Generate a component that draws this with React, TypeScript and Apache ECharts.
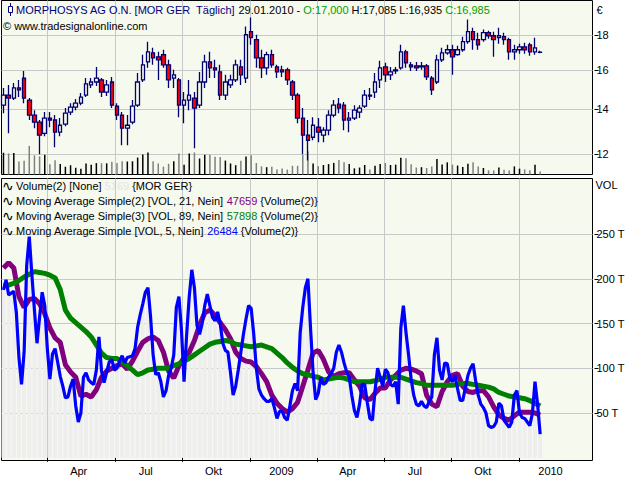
import React, { useEffect, useRef } from 'react';
import * as echarts from 'echarts';

// ---------- data ----------
const DAY = 86400000;
const firstWeek = Date.UTC(2008, 1, 1); // weekly candles, Fridays, 01.02.2008 .. 29.01.2010
const axisStart = Date.UTC(2008, 0, 29, 8);
const axisEnd = Date.UTC(2010, 3, 10);

const priceOpen = [
  14.18, 14.68, 14.53, 15.04, 15.56, 14.43, 13.71, 13.38, 12.88, 13.57,
  13.48, 12.93, 13.29, 13.85, 14.09, 14.28, 14.68, 15.2, 15.35, 15.46,
  14.83, 15.35, 14.14, 13.71, 13.11, 13.38, 14.18, 15.46, 16.44, 16.96,
  16.73, 16.85, 16.28, 15.56, 15.46, 14.18, 14.43, 14.53, 14.18, 15.35,
  16.44, 16.11, 15.89, 14.68, 15.2, 15.46, 16.16, 15.56, 18.23, 17.74,
  16.67, 16.11, 16.85, 16.16, 16.0, 16.0, 15.35, 14.68, 13.57, 12.8,
  12.71, 13.15, 12.8, 13.02, 13.71, 14.23, 14.18, 13.48, 13.57, 13.85,
  14.14, 14.68, 14.83, 15.46, 16.16, 15.73, 15.94, 16.11, 17.02, 16.28,
  16.22, 16.16, 16.22, 15.56, 15.35, 16.56, 16.96, 17.14, 16.85, 17.14,
  17.62, 18.23, 17.74, 17.74, 18.17, 17.98, 17.86, 17.92, 17.74, 17.02,
  17.14, 17.31, 17.43, 17.02, 17.0,
];
const priceHigh = [
  15.04, 15.2, 15.3, 15.46, 15.94, 14.53, 13.94, 13.48, 13.85, 13.85,
  13.71, 13.57, 14.04, 14.28, 14.48, 14.78, 15.56, 15.56, 16.16, 15.56,
  15.46, 15.62, 14.28, 13.85, 13.71, 14.43, 15.83, 16.85, 17.62, 17.25,
  17.02, 17.14, 16.56, 16.0, 15.56, 14.83, 15.46, 14.83, 15.89, 16.85,
  17.02, 16.56, 16.28, 15.73, 15.73, 16.56, 16.56, 18.55, 19.13, 18.04,
  17.14, 17.02, 17.14, 16.28, 16.22, 16.11, 15.46, 14.78, 14.04, 13.48,
  13.61, 13.57, 13.15, 13.94, 14.43, 14.53, 14.33, 13.85, 14.18, 14.18,
  14.94, 15.04, 15.83, 16.5, 16.39, 16.16, 16.16, 17.43, 17.14, 16.44,
  16.44, 16.44, 16.33, 15.67, 16.85, 17.25, 17.43, 17.43, 17.37, 17.92,
  19.0, 18.48, 18.17, 18.36, 18.29, 18.23, 18.48, 18.17, 17.86, 17.43,
  17.49, 17.55, 17.55, 17.86, 17.085,
];
const priceLow = [
  13.8, 12.88, 14.43, 14.58, 14.28, 13.48, 13.11, 11.99, 12.75, 13.15,
  12.28, 12.75, 13.2, 13.71, 13.94, 14.18, 14.58, 15.04, 15.14, 14.58,
  14.63, 14.04, 13.48, 12.37, 12.37, 13.29, 14.09, 15.35, 16.11, 16.28,
  15.46, 16.11, 15.04, 15.04, 13.61, 13.33, 13.94, 12.24, 14.04, 15.04,
  15.56, 15.56, 14.43, 14.43, 15.04, 15.35, 15.2, 15.3, 17.43, 16.11,
  15.56, 15.73, 16.11, 15.56, 15.62, 15.2, 14.43, 13.33, 11.99, 11.74,
  12.58, 12.49, 12.49, 12.8, 13.61, 13.8, 13.02, 12.93, 13.48, 13.57,
  14.04, 14.43, 14.53, 15.04, 15.35, 15.46, 15.78, 16.0, 16.11, 15.94,
  15.94, 16.0, 15.46, 14.68, 15.25, 16.44, 16.85, 15.73, 16.79, 17.02,
  17.49, 17.14, 17.14, 17.62, 17.8, 16.73, 17.49, 17.43, 16.56, 16.56,
  16.9, 16.9, 16.79, 16.85, 16.935,
];
const priceClose = [
  14.68, 14.53, 15.04, 14.94, 14.53, 13.71, 13.38, 12.8, 13.57, 13.48,
  12.93, 13.24, 13.8, 14.09, 14.28, 14.58, 15.25, 15.35, 15.56, 14.83,
  15.2, 14.18, 13.71, 13.11, 13.24, 14.14, 15.35, 16.28, 17.02, 16.67,
  16.56, 16.28, 15.46, 15.73, 14.18, 14.43, 14.68, 14.04, 15.35, 16.44,
  16.11, 16.0, 14.68, 15.35, 15.46, 16.28, 15.73, 18.04, 17.86, 16.67,
  16.11, 16.85, 16.28, 15.89, 15.89, 15.46, 14.68, 13.57, 12.8, 12.58,
  13.24, 12.93, 13.02, 13.71, 14.18, 14.04, 13.48, 13.57, 13.94, 14.04,
  14.68, 14.63, 15.35, 16.11, 15.73, 15.89, 16.0, 17.02, 16.39, 16.16,
  16.11, 16.22, 15.62, 14.94, 16.56, 16.96, 17.14, 16.73, 17.14, 17.62,
  18.23, 17.74, 17.43, 18.17, 17.98, 17.74, 17.98, 17.74, 17.02, 17.14,
  17.31, 17.14, 17.02, 17.25, 16.985,
];
// average daily volume per week, thousands
const volumeK = [
  187.6, 182, 186, 112, 118, 247, 165, 157, 170, 88,
  122, 91, 67, 80, 58, 50, 95, 84, 98, 97,
  96, 110, 100, 114, 112, 114, 146, 172, 190, 115,
  95, 68, 92, 115, 180, 85, 180, 190, 138, 170,
  170, 153, 150, 120, 95, 80, 118, 155, 167, 100,
  70, 63, 66, 44, 52, 42, 75, 75, 168, 200,
  95, 72, 82, 90, 100, 126, 106, 90, 53, 60,
  82, 44, 75, 90, 99, 82, 85, 145, 140, 88,
  60, 63, 56, 68, 134, 87, 105, 85, 77, 64,
  92, 105, 70, 56, 36, 35, 61, 42, 34, 70,
  50, 44, 36, 85, 26.5,
];
const lastDayVolume = 5169;
// MA 21 (purple) weekly, thousands
const ma21K = [
  212, 218, 212, 180, 168, 177, 178, 172, 161, 145,
  134, 129, 104, 96, 90, 69, 71, 68, 76, 90,
  97, 100, 103, 105, 99, 108, 119, 129, 133, 135,
  131, 118, 97, 89, 103, 112, 118, 131, 148, 162,
  165, 159, 151, 143, 133, 118, 111, 108, 107, 102,
  94, 85, 70, 61, 55, 51, 55, 62, 80, 98,
  117, 120, 110, 96, 91, 94, 95, 95, 87, 80,
  67, 65, 72, 78, 78, 87, 92, 98, 100, 99,
  97, 94, 70, 60, 57, 74, 85, 92, 94, 80,
  74, 73, 75, 75, 68, 57, 48, 44, 42, 47,
  51, 51, 51, 50, 47.659,
];
// MA 89 (green) weekly, thousands
const ma89K = [
  192, 193, 195, 198, 202, 205, 208, 207, 206, 204,
  201, 188, 165, 156, 151, 146, 141, 135, 126, 117,
  112, 111, 111, 107, 103, 98, 93, 95, 98, 99,
  100, 100, 100, 103, 105, 108, 111, 115, 119, 123,
  127, 129, 130, 131, 130, 127, 126, 125, 124, 125,
  126, 124, 122, 117, 112, 106, 101, 97, 94, 93,
  91, 90, 87, 88, 89, 90, 89, 87, 85, 85,
  85, 85, 86, 88, 90, 90, 90, 90, 88, 86,
  84, 83, 81, 81, 81, 81, 81, 81, 82, 83,
  83, 82, 81, 80, 79, 77, 73, 71, 69, 68,
  67, 66, 64, 61, 57.898,
];
// MA 5 (blue) twice a week, thousands
const ma5K = [
  187.6, 198.8, 182, 184, 186, 162, 112, 82, 118, 215,
  247, 205, 165, 128, 157, 185, 170, 122, 88, 116,
  122, 107, 91, 80, 67, 68, 80, 88, 58, 40,
  50, 90, 95, 87, 84, 82, 98, 135, 97, 84,
  96, 107, 110, 98, 100, 108, 114, 106, 112, 113,
  114, 122, 146, 160, 172, 185, 190, 158, 115, 93,
  95, 85, 68, 75, 92, 100, 115, 168, 180, 142,
  85, 138, 180, 210, 190, 148, 138, 150, 170, 183,
  170, 157, 153, 163, 150, 128, 120, 118, 95, 70,
  80, 98, 118, 138, 155, 170, 167, 138, 100, 77,
  70, 66, 63, 63, 66, 56, 44, 52, 52, 45,
  42, 58, 75, 83, 75, 140, 168, 190, 200, 145,
  95, 65, 72, 90, 82, 84, 90, 94, 100, 118,
  126, 118, 106, 96, 90, 70, 53, 45, 60, 82,
  82, 62, 44, 42, 75, 100, 90, 80, 99, 95,
  82, 80, 85, 60, 145, 170, 140, 115, 88, 70,
  60, 58, 63, 58, 56, 63, 68, 115, 134, 98,
  87, 106, 105, 89, 85, 92, 77, 64, 64, 78,
  92, 100, 105, 86, 70, 60, 56, 50, 36, 34,
  35, 40, 61, 58, 42, 38, 34, 40, 70, 75,
  50, 45, 44, 40, 36, 50, 85, 60, 26.484,
];

const quarterDates = ['2008-04-01', '2008-07-01', '2008-10-01', '2009-01-01', '2009-04-01', '2009-07-01', '2009-10-01', '2010-01-01'];
const quarterLabels = ['Apr', 'Jul', 'Okt', '2009', 'Apr', 'Jul', 'Okt', '2010'];
const priceTicks = [12, 14, 16, 18];
const volumeTicksK = [50, 100, 150, 200, 250];
const priceRange = [11.19, 20.28];
const volumeRangeK = [-3, 312];
const topVolumeMax = 1500;

// ---------- styles ----------
const BG = '#f6f9ee';
const GRIDC = '#c8c8c8';
const NAVY = '#000070';
const FONT = '"Liberation Sans", Arial, sans-serif';

export default function App() {
  const ref = useRef<HTMLDivElement>(null);
  useEffect(() => {
    const chart = echarts.init(ref.current as HTMLDivElement, null, { renderer: 'svg' });
    const weekDates = priceOpen.map((_, i) => firstWeek + i * 7 * DAY);
    const halfWeekDates = ma5K.map((_, i) => firstWeek + i * 3.5 * DAY);
    const qt = quarterDates.map((d) => Date.parse(d + 'T00:00:00Z'));
    const ln = Math.log;
    const last = priceOpen.length - 1;
    const f3 = (v: number) => v.toFixed(3).replace('.', ',');
    const ld = new Date(weekDates[last]);
    const p2 = (n: number) => String(n).padStart(2, '0');
    const dateStr = `${p2(ld.getUTCDate())}.${p2(ld.getUTCMonth() + 1)}.${ld.getUTCFullYear()}`;
    const k = (v: number) => String(Math.round(v * 1000));

    const txt = { fontFamily: FONT, fontSize: 11, color: '#000', lineHeight: 13 };
    const icon = { fontFamily: '"DejaVu Sans"', fontSize: 14, color: '#000', lineHeight: 13, width: 14 };
    const legendTitle = (top: number, text: string, rich: any) => ({
      left: 2, top, padding: 0, text,
      textStyle: { ...txt, fontWeight: 'normal', rich: { i: icon, ...rich } },
    });

    const labelNearest = (v: number) => {
      let best = 0;
      qt.forEach((q, i) => { if (Math.abs(q - v) < Math.abs(qt[best] - v)) best = i; });
      return quarterLabels[best];
    };

    const option: any = {
      animation: false,
      backgroundColor: '#ffffff',
      textStyle: { fontFamily: FONT },
      title: [
        {
          left: 16, top: 3.5, padding: 0,
          text: `{n|MORPHOSYS AG O.N. [MOR GER  Täglich]} {k|${dateStr} -} {g|O:${f3(priceOpen[last])}} {k|H:${f3(priceHigh[last])} L:${f3(priceLow[last])}} {g|C:${f3(priceClose[last])}}`,
          textStyle: {
            ...txt, fontWeight: 'normal',
            rich: { n: { ...txt, color: '#000080' }, k: { ...txt }, g: { ...txt, color: '#00a000' } },
          },
        },
        { left: 3, top: 19.5, padding: 0, text: '© www.tradesignalonline.com', textStyle: { ...txt, fontWeight: 'normal' } },
        legendTitle(179.5, `{i|∿}Volume(2) [None] {v|${lastDayVolume}} {MOR GER}`, { v: { ...txt, color: '#e4e4e4' } }),
        legendTitle(194.5, `{i|∿}Moving Average Simple(2) [VOL, 21, Nein] {v|${k(ma21K[ma21K.length - 1])}} {Volume(2)}`, { v: { ...txt, color: '#800080' } }),
        legendTitle(209.5, `{i|∿}Moving Average Simple(3) [VOL, 89, Nein] {v|${k(ma89K[ma89K.length - 1])}} {Volume(2)}`, { v: { ...txt, color: '#008000' } }),
        legendTitle(224.5, `{i|∿}Moving Average Simple [VOL, 5, Nein] {v|${k(ma5K[ma5K.length - 1])}} {Volume(2)}`, { v: { ...txt, color: '#0000ff' } }),
      ],
      graphic: [
        { type: 'line', shape: { x1: 10.5, y1: 3, x2: 10.5, y2: 16 }, style: { stroke: '#000080', lineWidth: 1 } },
        { type: 'rect', shape: { x: 8.5, y: 6.5, width: 4, height: 6 }, style: { fill: '#ffffff', stroke: '#000080', lineWidth: 1 } },
      ],
      grid: [
        { left: 1.5, top: 0.5, right: 47.5, height: 174, show: true, backgroundColor: BG, borderColor: '#000', borderWidth: 1 },
        { left: 1.5, top: 178.5, right: 47.5, bottom: 19.5, show: true, backgroundColor: BG, borderColor: '#000', borderWidth: 1 },
      ],
      xAxis: [
        {
          gridIndex: 0, type: 'value', min: axisStart, max: axisEnd,
          axisLine: { show: false },
          axisTick: { show: false, customValues: qt },
          axisLabel: { show: false, customValues: qt },
          splitLine: { show: true, lineStyle: { color: GRIDC, width: 1 } },
        },
        {
          gridIndex: 1, type: 'value', min: axisStart, max: axisEnd, offset: 3,
          axisLine: { show: false },
          axisTick: { show: true, length: 4, customValues: qt, lineStyle: { color: '#000' } },
          axisLabel: {
            customValues: qt, formatter: (v: number) => labelNearest(v),
            padding: [0, 0, 0, 62], margin: 2, fontSize: 11, color: '#000', fontFamily: FONT,
          },
          splitLine: { show: true, lineStyle: { color: GRIDC, width: 1 } },
        },
      ],
      yAxis: [
        {
          gridIndex: 0, type: 'value', position: 'right', min: ln(priceRange[0]), max: ln(priceRange[1]), offset: 2,
          axisLine: { show: false },
          axisTick: { show: true, length: 4, customValues: priceTicks.map(ln), lineStyle: { color: '#000' } },
          axisLabel: {
            customValues: priceTicks.map(ln), formatter: (v: number) => String(Math.round(Math.exp(v))),
            margin: 2, fontSize: 11, color: '#000', fontFamily: FONT,
          },
          splitLine: { show: true, lineStyle: { color: GRIDC, width: 1 } },
          name: '€', nameLocation: 'end', nameGap: -15,
          nameTextStyle: { align: 'left', verticalAlign: 'bottom', padding: [0, 0, 0, 2], fontSize: 11, color: '#000', fontFamily: FONT },
        },
        { gridIndex: 0, type: 'value', min: 0, max: topVolumeMax, show: false, splitLine: { show: false } },
        {
          gridIndex: 1, type: 'value', position: 'right', min: volumeRangeK[0], max: volumeRangeK[1], offset: 2,
          axisLine: { show: false },
          axisTick: { show: true, length: 4, customValues: volumeTicksK, lineStyle: { color: '#000' } },
          axisLabel: {
            customValues: volumeTicksK, formatter: (v: number) => `${v} T`,
            margin: 2, fontSize: 11, color: '#000', fontFamily: FONT,
          },
          splitLine: { show: true, lineStyle: { color: GRIDC, width: 1 } },
          name: 'VOL', nameLocation: 'end', nameGap: -12,
          nameTextStyle: { align: 'left', verticalAlign: 'bottom', padding: [0, 0, 0, 1], fontSize: 11, color: '#000', fontFamily: FONT },
        },
      ],
      series: [
        {
          type: 'bar', xAxisIndex: 0, yAxisIndex: 1, barWidth: 1.5, silent: true,
          data: weekDates.map((t, i) => ({
            value: [t, volumeK[i]],
            itemStyle: { color: priceClose[i] >= priceOpen[i] ? '#000000' : '#808080' },
          })),
        },
        {
          type: 'candlestick', xAxisIndex: 0, yAxisIndex: 0, barWidth: 4,
          encode: { x: 0, y: [1, 2, 3, 4] },
          data: weekDates.map((t, i) => [t, ln(priceOpen[i]), ln(priceClose[i]), ln(priceLow[i]), ln(priceHigh[i])]),
          itemStyle: { color: BG, color0: '#ff0000', borderColor: NAVY, borderColor0: NAVY, borderWidth: 1.3 },
        },
        {
          type: 'bar', xAxisIndex: 1, yAxisIndex: 2, barWidth: 4, silent: true,
          itemStyle: { color: '#eeeeee' },
          data: weekDates.map((t, i) => [t, volumeK[i]]),
        },
        {
          type: 'line', xAxisIndex: 1, yAxisIndex: 2, showSymbol: false,
          lineStyle: { color: '#800080', width: 5 },
          data: weekDates.map((t, i) => [t, ma21K[i]]),
        },
        {
          type: 'line', xAxisIndex: 1, yAxisIndex: 2, showSymbol: false,
          lineStyle: { color: '#008000', width: 5 },
          data: weekDates.map((t, i) => [t, ma89K[i]]),
        },
        {
          type: 'line', xAxisIndex: 1, yAxisIndex: 2, showSymbol: false,
          lineStyle: { color: '#0000ff', width: 3.2 },
          data: halfWeekDates.map((t, i) => [t, ma5K[i]]),
        },
      ],
    };
    chart.setOption(option);
    return () => chart.dispose();
  }, []);
  return <div ref={ref} style={{ position: 'fixed', left: 0, top: 0, width: 640, height: 480, background: '#fff' }} />;
}
